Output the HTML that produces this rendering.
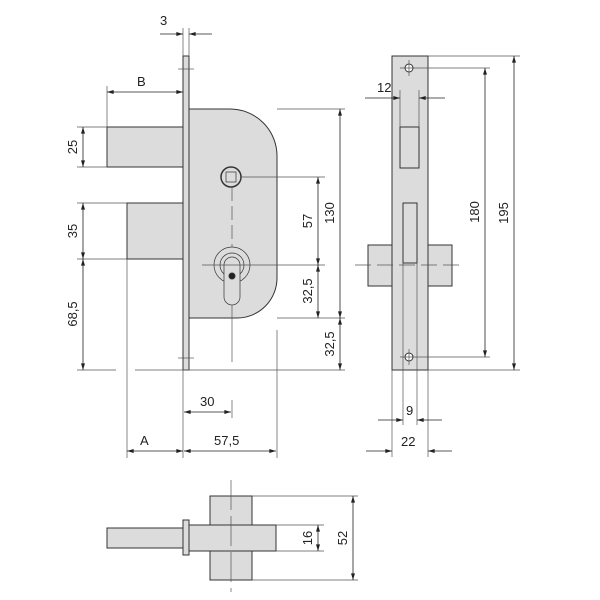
<!DOCTYPE html>
<html><head><meta charset="utf-8"><style>
html,body{margin:0;padding:0;background:#fff;width:600px;height:600px;overflow:hidden}
text{font-family:"Liberation Sans","DejaVu Sans",sans-serif;font-size:13px;fill:#222}
</style></head><body>
<svg width="600" height="600" viewBox="0 0 600 600" xmlns="http://www.w3.org/2000/svg">
<defs>
<marker id="a" viewBox="0 0 10 6" refX="10" refY="3" markerWidth="8" markerHeight="4" orient="auto-start-reverse" markerUnits="userSpaceOnUse"><path d="M0,0 L10,3 L0,6z" fill="#222"/></marker>
</defs>
<g stroke="#333" stroke-width="1" fill="#dcdcdc">
<rect x="107" y="127" width="76" height="40"/>
<rect x="127" y="203" width="56" height="56"/>
<path d="M189,109 H230 A47,47 0 0 1 277,156 V278 A40,40 0 0 1 237,318 H189 Z"/>
<rect x="183" y="56" width="6" height="314"/>
<circle cx="231" cy="177" r="10" fill="#dcdcdc" stroke-width="1.5"/>
<rect x="226" y="172" width="10" height="10" fill="none" stroke-width="0.7"/>
<circle cx="232" cy="265" r="18" fill="none" stroke-width="0.7"/>
<circle cx="232" cy="265" r="12" fill="none" stroke-width="0.7"/>
<path d="M224,265 A8,8 0 0 1 240,265 V297 A8,8 0 0 1 224,297 Z" fill="#dcdcdc" stroke-width="0.7"/>
<circle cx="232" cy="276" r="3" fill="#222"/>
<rect x="368" y="245" width="84" height="41"/>
<rect x="392" y="56" width="36" height="314"/>
<rect x="400" y="127" width="19" height="41" fill="none"/>
<rect x="403" y="203" width="14" height="60" fill="none"/>
<circle cx="409" cy="68" r="4" fill="#fff"/>
<circle cx="409" cy="357" r="4" fill="#fff"/>
<rect x="210" y="496" width="42" height="84"/>
<rect x="107" y="528" width="76" height="20"/>
<rect x="189" y="525" width="87" height="26"/>
<rect x="183" y="520" width="6" height="35"/>
</g>
<g stroke="#555" stroke-width="0.7" fill="none">
<line x1="183" y1="28" x2="183" y2="56"/><line x1="189" y1="28" x2="189" y2="56"/>
<line x1="107" y1="86" x2="107" y2="127"/>
<line x1="77" y1="127" x2="107" y2="127"/><line x1="77" y1="167" x2="107" y2="167"/>
<line x1="77" y1="203" x2="127" y2="203"/><line x1="77" y1="259" x2="127" y2="259"/>
<line x1="77" y1="370" x2="116" y2="370"/><line x1="135" y1="370" x2="345" y2="370"/>
<line x1="277" y1="109" x2="345" y2="109"/>
<line x1="240" y1="177" x2="325" y2="177"/>
<line x1="262" y1="265" x2="325" y2="265"/>
<line x1="277" y1="318" x2="345" y2="318"/>
<line x1="127" y1="259" x2="127" y2="458"/>
<line x1="183" y1="370" x2="183" y2="458"/>
<line x1="232" y1="400" x2="232" y2="418"/>
<line x1="277" y1="330" x2="277" y2="458"/>
<line x1="178" y1="69" x2="194" y2="69"/><line x1="178" y1="358" x2="194" y2="358"/>
<line x1="232" y1="187" x2="232" y2="247" stroke-dasharray="14,5"/>
<line x1="232" y1="305" x2="232" y2="362"/>
<line x1="202" y1="265" x2="262" y2="265"/>
<line x1="400" y1="90" x2="400" y2="127"/><line x1="419" y1="90" x2="419" y2="127"/>
<line x1="403" y1="263" x2="403" y2="425"/><line x1="417" y1="263" x2="417" y2="425"/>
<line x1="392" y1="370" x2="392" y2="457"/><line x1="428" y1="370" x2="428" y2="457"/>
<line x1="428" y1="56" x2="520" y2="56"/><line x1="428" y1="370" x2="520" y2="370"/>
<line x1="400" y1="68" x2="490" y2="68"/><line x1="400" y1="357" x2="490" y2="357"/>
<line x1="355" y1="265" x2="465" y2="265" stroke-dasharray="16,6"/>
<line x1="409" y1="60" x2="409" y2="76"/><line x1="409" y1="349" x2="409" y2="365"/>
<line x1="231" y1="480" x2="231" y2="592" stroke-dasharray="30,6"/>
<line x1="252" y1="496" x2="358" y2="496"/><line x1="252" y1="580" x2="358" y2="580"/>
<line x1="276" y1="525" x2="324" y2="525"/><line x1="276" y1="551" x2="324" y2="551"/>
</g>
<g stroke="#222" stroke-width="0.8" fill="none" marker-start="url(#a)" marker-end="url(#a)">
<line x1="107" y1="92" x2="183" y2="92"/>
<line x1="83" y1="127" x2="83" y2="167"/>
<line x1="83" y1="203" x2="83" y2="259"/>
<line x1="83" y1="259" x2="83" y2="370"/>
<line x1="318" y1="177" x2="318" y2="265"/>
<line x1="318" y1="265" x2="318" y2="318"/>
<line x1="340" y1="109" x2="340" y2="318"/>
<line x1="340" y1="318" x2="340" y2="370"/>
<line x1="184" y1="412" x2="231" y2="412"/>
<line x1="127" y1="451" x2="183" y2="451"/>
<line x1="184" y1="451" x2="276" y2="451"/>
<line x1="485" y1="68" x2="485" y2="357"/>
<line x1="514" y1="56" x2="514" y2="370"/>
<line x1="318" y1="525" x2="318" y2="551"/>
<line x1="353" y1="496" x2="353" y2="580"/>
</g>
<g stroke="#222" stroke-width="0.8">
<line x1="160" y1="34" x2="183" y2="34" marker-end="url(#a)"/>
<line x1="212" y1="34" x2="189" y2="34" marker-end="url(#a)"/>
<line x1="365" y1="98" x2="400" y2="98" marker-end="url(#a)"/>
<line x1="445" y1="98" x2="419" y2="98" marker-end="url(#a)"/>
<line x1="378" y1="420" x2="403" y2="420" marker-end="url(#a)"/>
<line x1="442" y1="420" x2="417" y2="420" marker-end="url(#a)"/>
<line x1="366" y1="451" x2="392" y2="451" marker-end="url(#a)"/>
<line x1="452" y1="451" x2="428" y2="451" marker-end="url(#a)"/>
</g>
<g>
<text x="160" y="25">3</text>
<text x="137" y="86">B</text>
<text x="377" y="92">12</text>
<text x="200" y="406">30</text>
<text x="140" y="445">A</text>
<text x="214" y="445">57,5</text>
<text x="406" y="415">9</text>
<text x="401" y="446">22</text>
<text transform="translate(77,147) rotate(-90)" text-anchor="middle">25</text>
<text transform="translate(77,231) rotate(-90)" text-anchor="middle">35</text>
<text transform="translate(77,314) rotate(-90)" text-anchor="middle">68,5</text>
<text transform="translate(312,221) rotate(-90)" text-anchor="middle">57</text>
<text transform="translate(312,291) rotate(-90)" text-anchor="middle">32,5</text>
<text transform="translate(334,213) rotate(-90)" text-anchor="middle">130</text>
<text transform="translate(334,344) rotate(-90)" text-anchor="middle">32,5</text>
<text transform="translate(479,212) rotate(-90)" text-anchor="middle">180</text>
<text transform="translate(508,213) rotate(-90)" text-anchor="middle">195</text>
<text transform="translate(312,538) rotate(-90)" text-anchor="middle">16</text>
<text transform="translate(347,538) rotate(-90)" text-anchor="middle">52</text>
</g>
</svg>
</body></html>
